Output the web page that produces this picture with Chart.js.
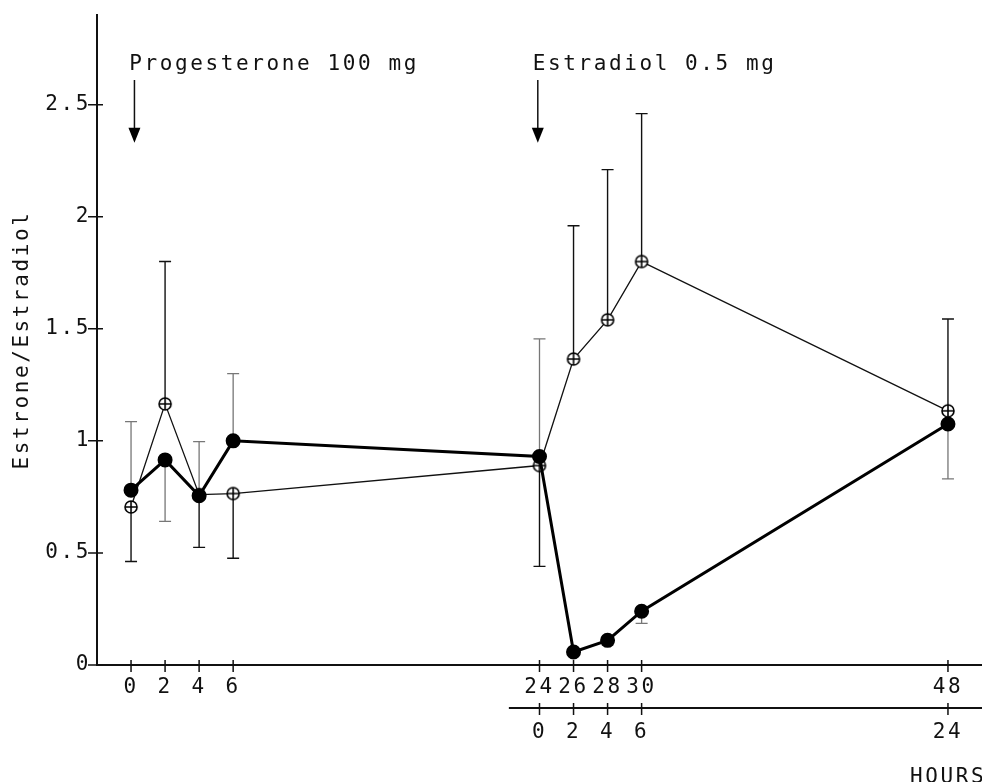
<!DOCTYPE html>
<html>
<head>
<meta charset="utf-8">
<script src="https://cdn.jsdelivr.net/npm/chart.js@4.4.1/dist/chart.umd.min.js"></script>
<style>
html, body { margin: 0; padding: 0; background: #fff; overflow: hidden; }
canvas { display: block; }
</style>
</head>
<body>
<canvas id="chart" width="982" height="782"></canvas>
<script>
// hours after progesterone, and the second scale (hours after estradiol)
const hours = [0, 2, 4, 6, 24, 26, 28, 30, 48];
const estradiolTicks = [24, 26, 28, 30, 48];
const estradiolLabels = ['0', '2', '4', '6', '24'];
const yTicks = [0, 0.5, 1, 1.5, 2, 2.5];

// open circles, thin line
const openRatio = [0.705, 1.165, 0.76, 0.765, 0.89, 1.365, 1.54, 1.80, 1.134];
const openHigh  = [null, 1.80, null, null, null, 1.96, 2.21, 2.46, 1.544];
const openLow   = [0.462, null, 0.525, 0.476, 0.44, null, null, null, null];

// filled circles, thick line
const filledRatio = [0.78, 0.915, 0.755, 1.00, 0.93, 0.058, 0.11, 0.24, 1.075];
const filledHigh  = [1.086, null, 0.997, 1.30, 1.455, null, null, null, null];
const filledLow   = [null, 0.641, null, null, null, null, 0.09, 0.186, 0.83];

const FONT = 'DejaVu Sans Mono';
const SPACING = '2.6px';
Chart.defaults.font.family = FONT;
Chart.defaults.font.size = 21;
Chart.defaults.color = '#111';

// circle with a cross inside
function crossCircle() {
    const c = document.createElement('canvas');
    c.width = 16; c.height = 16;
    const g = c.getContext('2d');
    g.fillStyle = '#fff';
    g.strokeStyle = '#000';
    g.lineWidth = 1.6;
    g.beginPath();
    g.arc(8, 8, 6, 0, Math.PI * 2);
    g.fill();
    g.stroke();
    g.beginPath();
    g.moveTo(2, 8); g.lineTo(14, 8);
    g.moveTo(8, 2); g.lineTo(8, 14);
    g.stroke();
    return c;
}

function toPoints(ys) {
    return hours.map((h, i) => ({ x: h, y: ys[i] }));
}

function noPadding(s) {
    s.paddingLeft = 0; s.paddingRight = 0;
    s.paddingTop = 0; s.paddingBottom = 0;
}

const plotter = {
    id: 'plotter',
    beforeUpdate(chart) { chart.ctx.letterSpacing = SPACING; },
    beforeDraw(chart) { chart.ctx.letterSpacing = SPACING; },
    beforeDatasetsDraw(chart) {
        const ctx = chart.ctx;
        const x = chart.scales.x, y = chart.scales.y;
        const bars = [
            { hi: openHigh, lo: openLow, color: '#111', width: 1.4, base: openRatio },
            { hi: filledHigh, lo: filledLow, color: '#777', width: 1.3, base: filledRatio }
        ];
        ctx.save();
        bars.forEach(b => {
            ctx.strokeStyle = b.color;
            ctx.lineWidth = b.width;
            hours.forEach((h, i) => {
                const px = x.getPixelForValue(h);
                const py = y.getPixelForValue(b.base[i]);
                [b.hi[i], b.lo[i]].forEach(v => {
                    if (v == null) return;
                    const ey = y.getPixelForValue(v);
                    ctx.beginPath();
                    ctx.moveTo(px, py);
                    ctx.lineTo(px, ey);
                    ctx.moveTo(px - 6, ey);
                    ctx.lineTo(px + 6, ey);
                    ctx.stroke();
                });
            });
        });
        ctx.restore();
    },
    afterDraw(chart) {
        const ctx = chart.ctx;
        const x = chart.scales.x, y = chart.scales.y, x2 = chart.scales.x2;
        const area = chart.chartArea;
        ctx.save();
        ctx.strokeStyle = '#111';
        ctx.lineWidth = 1.5;

        // tick marks crossing the axes
        ctx.beginPath();
        hours.forEach(h => {
            const px = x.getPixelForValue(h);
            ctx.moveTo(px, area.bottom - 5);
            ctx.lineTo(px, area.bottom + 7);
        });
        yTicks.forEach(v => {
            const py = y.getPixelForValue(v);
            ctx.moveTo(area.left - 9, py);
            ctx.lineTo(area.left + 6, py);
        });
        ctx.stroke();

        // second time axis
        const y2 = x2.top;
        ctx.lineWidth = 2;
        ctx.beginPath();
        ctx.moveTo(x2.getPixelForValue(22.2), y2);
        ctx.lineTo(area.right, y2);
        ctx.stroke();
        ctx.lineWidth = 1.5;
        ctx.beginPath();
        estradiolTicks.forEach(h => {
            const px = x2.getPixelForValue(h);
            ctx.moveTo(px, y2 - 5);
            ctx.lineTo(px, y2 + 7);
        });
        ctx.stroke();

        // dose arrows
        ctx.fillStyle = '#000';
        [0.2, 23.9].forEach(h => {
            const px = x.getPixelForValue(h);
            const top = y.getPixelForValue(2.61);
            const tip = y.getPixelForValue(2.33);
            ctx.beginPath();
            ctx.moveTo(px, top);
            ctx.lineTo(px, tip - 10);
            ctx.stroke();
            ctx.beginPath();
            ctx.moveTo(px - 6, tip - 15);
            ctx.lineTo(px + 6, tip - 15);
            ctx.lineTo(px, tip);
            ctx.closePath();
            ctx.fill();
        });

        // texts
        ctx.fillStyle = '#111';
        ctx.font = '21px "' + FONT + '"';
        ctx.letterSpacing = SPACING;
        ctx.textAlign = 'left';
        ctx.textBaseline = 'alphabetic';
        ctx.fillText('Progesterone 100 mg', x.getPixelForValue(-0.1), y.getPixelForValue(2.655));
        ctx.fillText('Estradiol 0.5 mg', x.getPixelForValue(23.6), y.getPixelForValue(2.655));
        ctx.fillText('HOURS', 910, 783);

        ctx.translate(23, 340);
        ctx.rotate(-Math.PI / 2);
        ctx.textAlign = 'center';
        ctx.textBaseline = 'middle';
        ctx.fillText('Estrone/Estradiol', 0, 0);
        ctx.restore();
    }
};

new Chart(document.getElementById('chart'), {
    type: 'line',
    data: {
        datasets: [
            {
                label: 'open',
                data: toPoints(openRatio),
                borderColor: '#111',
                borderWidth: 1.3,
                pointStyle: crossCircle(),
                pointRadius: 7,
                tension: 0,
                order: 2
            },
            {
                label: 'filled',
                data: toPoints(filledRatio),
                borderColor: '#000',
                borderWidth: 3,
                pointStyle: 'circle',
                pointRadius: 6,
                pointBackgroundColor: '#000',
                pointBorderColor: '#000',
                tension: 0,
                order: 1
            }
        ]
    },
    options: {
        responsive: false,
        animation: false,
        layout: { autoPadding: false, padding: { top: 15, left: 0, right: 0, bottom: 0 } },
        plugins: { legend: { display: false }, tooltip: { enabled: false } },
        scales: {
            x: {
                type: 'linear',
                position: 'bottom',
                weight: 0,
                min: -2,
                max: 50,
                afterBuildTicks: s => { s.ticks = hours.map(v => ({ value: v })); },
                afterFit: s => { s.height = 43; noPadding(s); },
                ticks: { autoSkip: false, maxRotation: 0, padding: 10 },
                grid: { display: false, drawTicks: false },
                border: { display: true, color: '#111', width: 2 }
            },
            x2: {
                type: 'linear',
                position: 'bottom',
                weight: 1,
                min: -2,
                max: 50,
                afterBuildTicks: s => { s.ticks = estradiolTicks.map(v => ({ value: v })); },
                afterFit: s => { s.height = 74; noPadding(s); },
                ticks: {
                    autoSkip: false,
                    maxRotation: 0,
                    padding: 12,
                    callback: (v, i) => estradiolLabels[i]
                },
                grid: { display: false, drawTicks: false },
                border: { display: false }
            },
            y: {
                type: 'linear',
                min: 0,
                max: 2.9,
                afterBuildTicks: s => { s.ticks = yTicks.map(v => ({ value: v })); },
                afterFit: s => { s.width = 97; noPadding(s); },
                ticks: { padding: 6, callback: v => String(v) },
                grid: { display: false, drawTicks: false },
                border: { display: true, color: '#111', width: 2 }
            }
        }
    },
    plugins: [plotter]
});
</script>
</body>
</html>
